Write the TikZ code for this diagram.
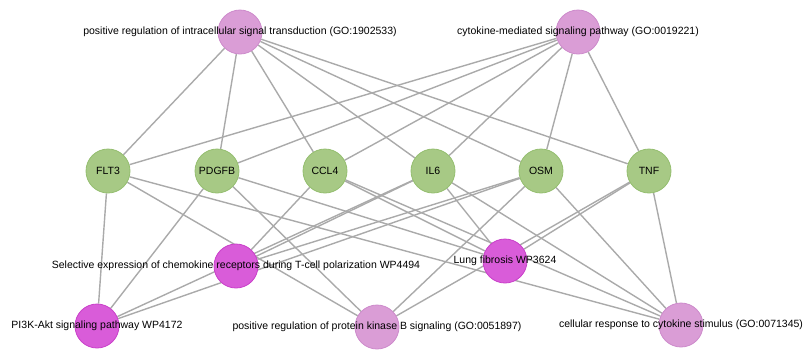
\documentclass[tikz,border=0pt]{standalone}
\usepackage{fontspec}
\setmainfont{Liberation Sans}
\usetikzlibrary{backgrounds}
\definecolor{genefill}{HTML}{A7C985}
\definecolor{genedraw}{HTML}{94BE6F}
\definecolor{termfill}{HTML}{DA9DD6}
\definecolor{termdraw}{HTML}{CD8ACB}
\definecolor{pathfill}{HTML}{D95CD9}
\definecolor{pathdraw}{HTML}{C93FC9}
\definecolor{linkgray}{HTML}{AAAAAA}
\begin{document}
\begin{tikzpicture}[x=1pt, y=-1pt,
  every node/.style={circle, minimum size=44pt, inner sep=0pt, font=\fontsize{10.5}{12}\selectfont}
]
\tikzset{
  gene/.style={draw=genedraw, fill=genefill, line width=0.8pt},
  term/.style={draw=termdraw, fill=termfill, line width=0.8pt},
  pathway/.style={draw=pathdraw, fill=pathfill, line width=0.8pt},
  lbl/.style={rectangle, minimum size=0pt, inner sep=0pt},
  link/.style={draw=linkgray, line width=1.4pt}
}
\useasboundingbox (0,0) rectangle (808,349);

\node[term, label={[lbl]center:positive regulation of intracellular signal transduction (GO:1902533)}] (go1902533) at (240,32) {};
\node[term, label={[lbl]center:cytokine-mediated signaling pathway (GO:0019221)}] (go0019221) at (578,32) {};

\node[gene] (flt3) at (108,171) {FLT3};
\node[gene] (pdgfb) at (217,171) {PDGFB};
\node[gene] (ccl4) at (325,171) {CCL4};
\node[gene] (il6) at (433,171) {IL6};
\node[gene] (osm) at (541,171) {OSM};
\node[gene] (tnf) at (649,171) {TNF};

\node[pathway, label={[lbl]center:Selective expression of chemokine receptors during T-cell polarization WP4494}] (wp4494) at (236,266) {};
\node[pathway, label={[lbl]center:Lung fibrosis WP3624}] (wp3624) at (505,261) {};
\node[pathway, label={[lbl]center:PI3K-Akt signaling pathway WP4172}] (wp4172) at (97,326) {};
\node[term, label={[lbl]center:positive regulation of protein kinase B signaling (GO:0051897)}] (go0051897) at (377,327) {};
\node[term, label={[lbl]center:cellular response to cytokine stimulus (GO:0071345)}] (go0071345) at (681,325) {};

\begin{scope}[on background layer]
\foreach \g in {flt3,pdgfb,ccl4,il6,osm,tnf} {
  \draw[link] (go1902533) -- (\g);
  \draw[link] (go0019221) -- (\g);
}
\foreach \g in {flt3,pdgfb,il6,osm}
  \draw[link] (wp4172) -- (\g);
\foreach \g in {ccl4,il6,osm}
  \draw[link] (wp4494) -- (\g);
\foreach \g in {pdgfb,ccl4,il6,tnf}
  \draw[link] (wp3624) -- (\g);
\foreach \g in {flt3,pdgfb,osm,tnf}
  \draw[link] (go0051897) -- (\g);
\foreach \g in {flt3,ccl4,il6,osm,tnf}
  \draw[link] (go0071345) -- (\g);
\end{scope}
\end{tikzpicture}
\end{document}
